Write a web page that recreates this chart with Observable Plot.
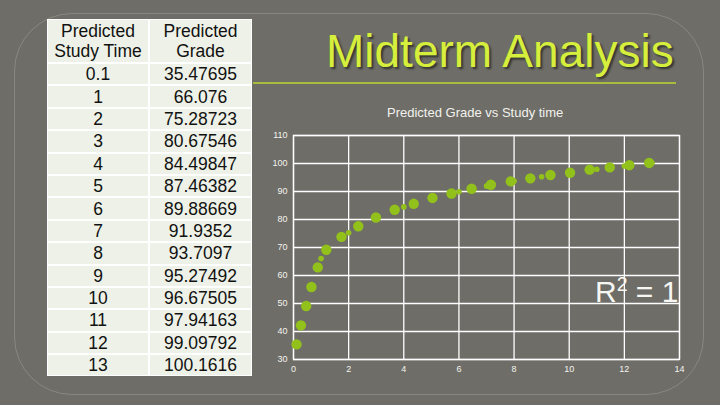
<!DOCTYPE html>
<html>
<head>
<meta charset="utf-8">
<script src="https://cdn.jsdelivr.net/npm/d3@7"></script>
<script src="https://cdn.jsdelivr.net/npm/@observablehq/plot@0.6"></script>
<style>
  html, body { margin: 0; padding: 0; }
  body { width: 720px; height: 405px; background: #6e6d67; position: relative; overflow: hidden; font-family: "Liberation Sans", Arial, sans-serif; }
  #frame { position: absolute; left: 14px; top: 13px; width: 690px; height: 382px; border: 1px solid rgba(200,200,190,0.28); border-radius: 58px; box-sizing: border-box; }
  #tbl { position: absolute; left: 47px; top: 19px; display: grid; grid-template-columns: 100px 101px; grid-template-rows: 42px repeat(14, 20.4px); gap: 2px; padding: 1px; background: #ffffff; }
  #tbl div { background: #eef1e7; color: #111; font-size: 17.5px; line-height: 20px; display: flex; align-items: center; justify-content: center; text-align: center; }
  #title { position: absolute; left: 326px; top: 28px; font-size: 46px; line-height: 46px; color: #d6ef3c; text-shadow: 2px 2px 2px rgba(40,40,35,0.8); white-space: nowrap; }
  #rule { position: absolute; left: 253px; top: 82px; width: 423px; height: 2px; background: #a9bd3c; }
  #subtitle { position: absolute; left: 387px; top: 105px; font-size: 13px; line-height: 16px; color: #f2f2ee; white-space: nowrap; }
  #chart { position: absolute; left: 262px; top: 120px; }
  #r2 { position: absolute; left: 595px; top: 275px; font-size: 30px; line-height: 34px; color: #f6f6f2; white-space: nowrap; }
  #r2 sup { font-size: 65%; vertical-align: 0; position: relative; top: -11px; }
</style>
</head>
<body>
<div id="frame"></div>
<div id="tbl"></div>
<div id="title">Midterm Analysis</div>
<div id="rule"></div>
<div id="subtitle">Predicted Grade vs Study time</div>
<div id="chart"></div>
<div id="r2">R<sup>2</sup> = 1</div>
<script>
// Table / small-dot series (predicted values)
const headers = ["Predicted Study Time", "Predicted Grade"];
const studyTime = [0.1, 1, 2, 3, 4, 5, 6, 7, 8, 9, 10, 11, 12, 13];
const studyTimeLabels = ["0.1", "1", "2", "3", "4", "5", "6", "7", "8", "9", "10", "11", "12", "13"];
const gradeLabels = ["35.47695", "66.076", "75.28723", "80.67546", "84.49847", "87.46382", "89.88669", "91.9352", "93.7097", "95.27492", "96.67505", "97.94163", "99.09792", "100.1616"];
const grade = gradeLabels.map(Number);

// Large-dot series
const obsTime = [0.11, 0.27, 0.46, 0.65, 0.88, 1.19, 1.74, 2.35, 2.99, 3.67, 4.36, 5.04, 5.73, 6.46, 7.16, 7.88, 8.59, 9.32, 10.03, 10.74, 11.47, 12.18, 12.9];
const obsGrade = [35.4, 42.2, 49.1, 55.9, 62.9, 69.2, 73.8, 77.6, 80.7, 83.5, 85.6, 87.7, 89.3, 91.0, 92.4, 93.6, 94.7, 95.9, 96.7, 97.8, 98.6, 99.4, 100.2];

const xTicks = [0, 2, 4, 6, 8, 10, 12, 14];
const yTicks = [30, 40, 50, 60, 70, 80, 90, 100, 110];

// Build table
const tbl = document.getElementById("tbl");
function cell(html) { const d = document.createElement("div"); d.innerHTML = html; tbl.appendChild(d); }
for (const h of headers) cell(h.replace("Predicted ", "Predicted<br>"));
studyTimeLabels.forEach((t, i) => { cell(t); cell(gradeLabels[i]); });

const obs = obsTime.map((x, i) => ({x, y: obsGrade[i]}));
const pred = studyTime.map((x, i) => ({x, y: grade[i]}));

const green = "#92c11b";
const chart = Plot.plot({
  width: 440,
  height: 265,
  marginLeft: 31,
  marginRight: 23,
  marginTop: 15,
  marginBottom: 26,
  style: { background: "transparent", color: "#f4f4f0", fontFamily: "Liberation Sans, Arial, sans-serif", fontSize: "9px" },
  x: { domain: [0, 14], ticks: xTicks, tickSize: 0, tickPadding: 6, label: null },
  y: { domain: [30, 110], ticks: yTicks, tickSize: 0, tickPadding: 6, label: null },
  marks: [
    Plot.gridX(xTicks, { stroke: "#ffffff", strokeOpacity: 1, strokeWidth: 1.3 }),
    Plot.gridY(yTicks, { stroke: "#ffffff", strokeOpacity: 1, strokeWidth: 1.3 }),
    Plot.frame({ stroke: "#ffffff", strokeWidth: 1.3 }),
    Plot.dot(pred, { x: "x", y: "y", r: 2.8, fill: green, stroke: "none" }),
    Plot.dot(obs, { x: "x", y: "y", r: 5.2, fill: green, stroke: "none" })
  ]
});
document.getElementById("chart").appendChild(chart);
</script>
</body>
</html>
